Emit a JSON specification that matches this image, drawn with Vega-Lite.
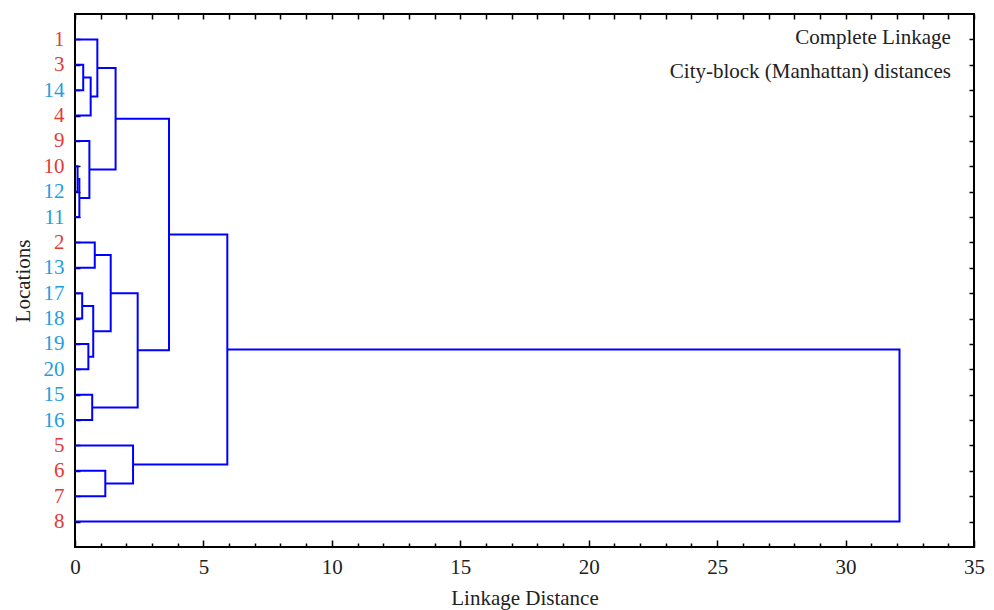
{
  "$schema": "https://vega.github.io/schema/vega-lite/v6.json",
  "width": 899,
  "height": 533,
  "autosize": "none",
  "padding": {"left": 75, "top": 14, "right": 20, "bottom": 63},
  "background": "white",
  "config": {
    "view": {"stroke": "black", "strokeWidth": 2},
    "axis": {
      "labelFont": "Liberation Serif",
      "titleFont": "Liberation Serif",
      "labelFontSize": 21,
      "titleFontSize": 21,
      "titleFontWeight": "normal",
      "labelColor": "#222",
      "titleColor": "#222",
      "labelFlush": false,
      "domain": false,
      "grid": false,
      "tickColor": "black",
      "tickWidth": 1.5
    },
    "text": {"font": "Liberation Serif"}
  },
  "datasets": {
    "tree": [
      {"m": "A", "o": 1, "d": 0, "p": 2}, {"m": "A", "o": 2, "d": 0.32, "p": 2}, {"m": "A", "o": 3, "d": 0.32, "p": 3}, {"m": "A", "o": 4, "d": 0, "p": 3},
      {"m": "B", "o": 1, "d": 0.32, "p": 2.5}, {"m": "B", "o": 2, "d": 0.61, "p": 2.5}, {"m": "B", "o": 3, "d": 0.61, "p": 4}, {"m": "B", "o": 4, "d": 0, "p": 4},
      {"m": "C", "o": 1, "d": 0, "p": 1}, {"m": "C", "o": 2, "d": 0.87, "p": 1}, {"m": "C", "o": 3, "d": 0.87, "p": 3.25}, {"m": "C", "o": 4, "d": 0.61, "p": 3.25},
      {"m": "D", "o": 1, "d": 0, "p": 6}, {"m": "D", "o": 2, "d": 0.1, "p": 6}, {"m": "D", "o": 3, "d": 0.1, "p": 7}, {"m": "D", "o": 4, "d": 0, "p": 7},
      {"m": "E", "o": 1, "d": 0.1, "p": 6.5}, {"m": "E", "o": 2, "d": 0.17, "p": 6.5}, {"m": "E", "o": 3, "d": 0.17, "p": 8}, {"m": "E", "o": 4, "d": 0, "p": 8},
      {"m": "F", "o": 1, "d": 0, "p": 5}, {"m": "F", "o": 2, "d": 0.56, "p": 5}, {"m": "F", "o": 3, "d": 0.56, "p": 7.25}, {"m": "F", "o": 4, "d": 0.17, "p": 7.25},
      {"m": "G", "o": 1, "d": 0.87, "p": 2.125}, {"m": "G", "o": 2, "d": 1.58, "p": 2.125}, {"m": "G", "o": 3, "d": 1.58, "p": 6.125}, {"m": "G", "o": 4, "d": 0.56, "p": 6.125},
      {"m": "H", "o": 1, "d": 0, "p": 9}, {"m": "H", "o": 2, "d": 0.77, "p": 9}, {"m": "H", "o": 3, "d": 0.77, "p": 10}, {"m": "H", "o": 4, "d": 0, "p": 10},
      {"m": "I", "o": 1, "d": 0, "p": 11}, {"m": "I", "o": 2, "d": 0.28, "p": 11}, {"m": "I", "o": 3, "d": 0.28, "p": 12}, {"m": "I", "o": 4, "d": 0, "p": 12},
      {"m": "J", "o": 1, "d": 0, "p": 13}, {"m": "J", "o": 2, "d": 0.52, "p": 13}, {"m": "J", "o": 3, "d": 0.52, "p": 14}, {"m": "J", "o": 4, "d": 0, "p": 14},
      {"m": "K", "o": 1, "d": 0.28, "p": 11.5}, {"m": "K", "o": 2, "d": 0.71, "p": 11.5}, {"m": "K", "o": 3, "d": 0.71, "p": 13.5}, {"m": "K", "o": 4, "d": 0.52, "p": 13.5},
      {"m": "L", "o": 1, "d": 0.77, "p": 9.5}, {"m": "L", "o": 2, "d": 1.39, "p": 9.5}, {"m": "L", "o": 3, "d": 1.39, "p": 12.5}, {"m": "L", "o": 4, "d": 0.71, "p": 12.5},
      {"m": "M", "o": 1, "d": 0, "p": 15}, {"m": "M", "o": 2, "d": 0.67, "p": 15}, {"m": "M", "o": 3, "d": 0.67, "p": 16}, {"m": "M", "o": 4, "d": 0, "p": 16},
      {"m": "N", "o": 1, "d": 1.39, "p": 11}, {"m": "N", "o": 2, "d": 2.44, "p": 11}, {"m": "N", "o": 3, "d": 2.44, "p": 15.5}, {"m": "N", "o": 4, "d": 0.67, "p": 15.5},
      {"m": "O", "o": 1, "d": 1.58, "p": 4.125}, {"m": "O", "o": 2, "d": 3.66, "p": 4.125}, {"m": "O", "o": 3, "d": 3.66, "p": 13.25}, {"m": "O", "o": 4, "d": 2.44, "p": 13.25},
      {"m": "P", "o": 1, "d": 0, "p": 18}, {"m": "P", "o": 2, "d": 1.18, "p": 18}, {"m": "P", "o": 3, "d": 1.18, "p": 19}, {"m": "P", "o": 4, "d": 0, "p": 19},
      {"m": "Q", "o": 1, "d": 0, "p": 17}, {"m": "Q", "o": 2, "d": 2.26, "p": 17}, {"m": "Q", "o": 3, "d": 2.26, "p": 18.5}, {"m": "Q", "o": 4, "d": 1.18, "p": 18.5},
      {"m": "R", "o": 1, "d": 3.66, "p": 8.6875}, {"m": "R", "o": 2, "d": 5.93, "p": 8.6875}, {"m": "R", "o": 3, "d": 5.93, "p": 17.75}, {"m": "R", "o": 4, "d": 2.26, "p": 17.75},
      {"m": "S", "o": 1, "d": 5.93, "p": 13.21875}, {"m": "S", "o": 2, "d": 32.1, "p": 13.21875}, {"m": "S", "o": 3, "d": 32.1, "p": 20}, {"m": "S", "o": 4, "d": 0, "p": 20}
    ],
    "notes": [
      {"t": "Complete Linkage", "d": 34.1, "p": 0.95},
      {"t": "City-block (Manhattan) distances", "d": 34.1, "p": 2.28}
    ]
  },
  "layer": [
    {
      "data": {"name": "tree"},
      "mark": {"type": "point", "opacity": 0},
      "encoding": {
        "x": {"field": "d", "type": "quantitative", "scale": {"domain": [0, 35], "nice": false, "zero": false},
          "axis": {"orient": "top", "values": [0,1,2,3,4,5,6,7,8,9,10,11,12,13,14,15,16,17,18,19,20,21,22,23,24,25,26,27,28,29,30,31,32,33,34,35], "labels": false, "title": null, "tickSize": -5}},
        "y": {"field": "p", "type": "quantitative", "scale": {"domain": [0, 21], "reverse": true, "nice": false, "zero": false},
          "axis": {"orient": "right", "values": [1,2,3,4,5,6,7,8,9,10,11,12,13,14,15,16,17,18,19,20], "labels": false, "title": null, "tickSize": -5}}
      }
    },
    {
      "data": {"name": "tree"},
      "mark": {"type": "line", "color": "#0000ff", "strokeWidth": 2, "strokeJoin": "miter"},
      "encoding": {
        "x": {"field": "d", "type": "quantitative",
          "axis": {"orient": "bottom", "values": [0,1,2,3,4,5,6,7,8,9,10,11,12,13,14,15,16,17,18,19,20,21,22,23,24,25,26,27,28,29,30,31,32,33,34,35],
            "labelExpr": "datum.value % 5 == 0 ? datum.label : ''",
            "tickSize": {"condition": {"test": "datum.value % 5 == 0", "value": -7}, "value": -4},
            "labelPadding": 16, "title": "Linkage Distance", "titlePadding": 10}},
        "y": {"field": "p", "type": "quantitative",
          "axis": {"orient": "left", "values": [1,2,3,4,5,6,7,8,9,10,11,12,13,14,15,16,17,18,19,20],
            "labelExpr": "['','1','3','14','4','9','10','12','11','2','13','17','18','19','20','15','16','5','6','7','8'][datum.value]",
            "labelColor": {"condition": {"test": "indexof([1,2,4,5,6,9,17,18,19,20], datum.value) >= 0", "value": "#e53935"}, "value": "#1e9de0"},
            "tickSize": -5, "labelPadding": 16, "title": "Locations", "titlePadding": 10}},
        "detail": {"field": "m"},
        "order": {"field": "o"}
      }
    },
    {
      "data": {"name": "notes"},
      "mark": {"type": "text", "align": "right", "baseline": "middle", "fontSize": 21, "color": "#222"},
      "encoding": {
        "x": {"field": "d", "type": "quantitative", "axis": null},
        "y": {"field": "p", "type": "quantitative", "axis": null},
        "text": {"field": "t"}
      }
    }
  ],
  "resolve": {"axis": {"x": "independent", "y": "independent"}}
}
